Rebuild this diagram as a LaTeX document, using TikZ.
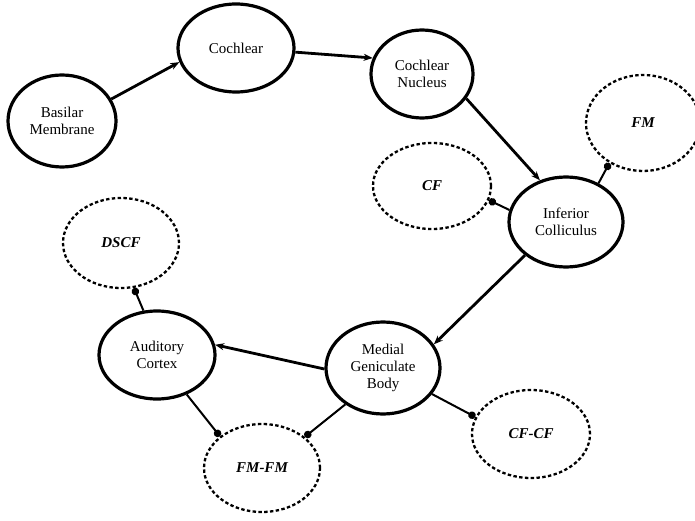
\documentclass[tikz,border=0pt]{standalone}
\usepackage{fontspec}
\setmainfont{Liberation Serif}
\usetikzlibrary{shapes.geometric,arrows.meta}
\tikzset{
  solidnode/.style={ellipse,draw,line width=3.2pt,inner sep=0pt,align=center,
    font=\fontsize{15}{17}\selectfont},
  dashnode/.style={ellipse,draw,line width=2.3pt,dash pattern=on 3.4pt off 2.4pt,inner sep=0pt,
    font=\fontsize{15}{17}\selectfont\bfseries\itshape},
  arr/.style={line width=2.8pt,-{Stealth[length=9pt,width=7pt]}},
  link/.style={line width=2pt,-{Circle[length=7.5pt]}}
}
\begin{document}
\begin{tikzpicture}[x=1pt,y=-1pt]
\useasboundingbox (0,0) rectangle (695,521);
\node[solidnode,minimum width=108pt,minimum height=92pt] (bm) at (62,121) {Basilar\\Membrane};
\node[solidnode,minimum width=116pt,minimum height=88pt] (co) at (236,48) {Cochlear};
\node[solidnode,minimum width=102pt,minimum height=88pt] (cn) at (422,74) {Cochlear\\Nucleus};
\node[solidnode,minimum width=114pt,minimum height=90pt] (ic) at (566,222) {Inferior\\Colliculus};
\node[solidnode,minimum width=114pt,minimum height=92pt] (mgb) at (383,368) {Medial\\Geniculate\\Body};
\node[solidnode,minimum width=116pt,minimum height=88pt] (ac) at (157,355) {Auditory\\Cortex};
\node[dashnode,minimum width=114pt,minimum height=96pt] (fm) at (643,123) {FM};
\node[dashnode,minimum width=118pt,minimum height=86pt] (cf) at (432,186) {CF};
\node[dashnode,minimum width=116pt,minimum height=90pt] (dscf) at (121,243) {DSCF};
\node[dashnode,minimum width=116pt,minimum height=88pt] (fmfm) at (262,468) {FM-FM};
\node[dashnode,minimum width=118pt,minimum height=88pt] (cfcf) at (531,434) {CF-CF};
\draw[arr] (bm.24) -- (co.194);
\draw[arr] (co.356) -- (cn.162);
\draw[arr] (cn.331) -- (ic.122);
\draw[arr] (ic.219) -- (mgb.25);
\draw[arr] (mgb.181) -- (ac.10);
\draw[link] (ic.168) -- (cf.346);
\draw[link] (ic.50) -- (fm.230);
\draw[link] (ac.107) -- (dscf.286);
\draw[link] (ac.307) -- (fmfm.143);
\draw[link] (mgb.224) -- (fmfm.36);
\draw[link] (mgb.332) -- (cfcf.163);
\end{tikzpicture}
\end{document}
